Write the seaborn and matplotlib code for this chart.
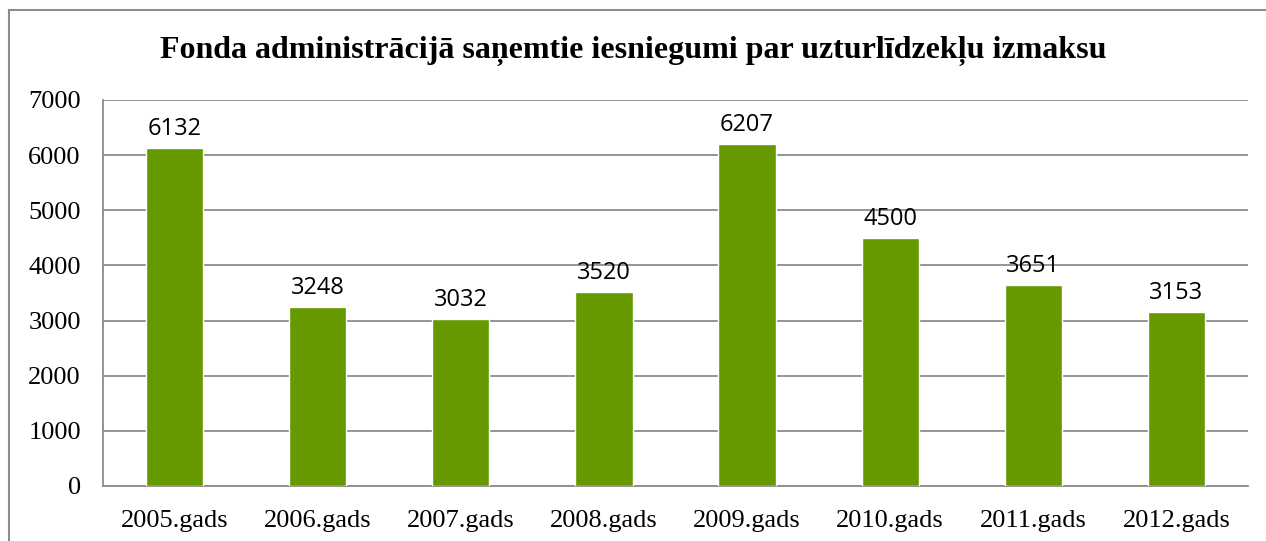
import matplotlib
matplotlib.use("Agg")
from matplotlib import pyplot as plt
from matplotlib.patches import Rectangle
import pandas as pd
import seaborn as sns

years = ["2005.gads", "2006.gads", "2007.gads", "2008.gads",
         "2009.gads", "2010.gads", "2011.gads", "2012.gads"]
applications = [6132, 3248, 3032, 3520, 6207, 4500, 3651, 3153]
title = "Fonda administrācijā saņemtie iesniegumi par uzturlīdzekļu izmaksu"

df = pd.DataFrame({"year": years, "count": applications})

sns.set_style("white")
fig = plt.figure(figsize=(12.66, 5.41), dpi=100)
ax = fig.add_axes([0.0814, 0.1017, 0.9044, 0.7135])

sns.barplot(data=df, x="year", y="count", color="#669900", width=0.4,
            saturation=1, ax=ax, zorder=3)

ax.set_ylim(0, 7000)
ax.set_yticks(range(0, 7001, 1000))
ax.yaxis.grid(True, color="#8c8c8c", linewidth=1.3, zorder=0)
ax.set_axisbelow(True)
ax.set_xlabel("")
ax.set_ylabel("")
ax.tick_params(axis="x", length=0, pad=17)
ax.tick_params(axis="y", length=0, pad=16)
for lbl in ax.get_xticklabels() + ax.get_yticklabels():
    lbl.set_family("Liberation Serif")
    lbl.set_fontsize(19)
    lbl.set_color("black")
for side in ["top", "right"]:
    ax.spines[side].set_visible(False)
for side in ["left", "bottom"]:
    ax.spines[side].set_color("#8c8c8c")
    ax.spines[side].set_linewidth(1.3)

for c in ax.containers:
    ax.bar_label(c, fmt="%d", padding=5, fontsize=17, family="Open Sans",
                 color="black")

fig.text(0.5, 0.905, title, ha="center", va="center", color="black",
         family="Liberation Serif", fontweight="bold", fontsize=23)

# chart border
fig.patches.append(Rectangle((9 / 1266, -0.05), 1.1, 1 - 10 / 541 + 0.05,
                             transform=fig.transFigure, fill=False,
                             edgecolor="#8c8c8c", linewidth=1.5))

fig.savefig("out.png", dpi=100)
